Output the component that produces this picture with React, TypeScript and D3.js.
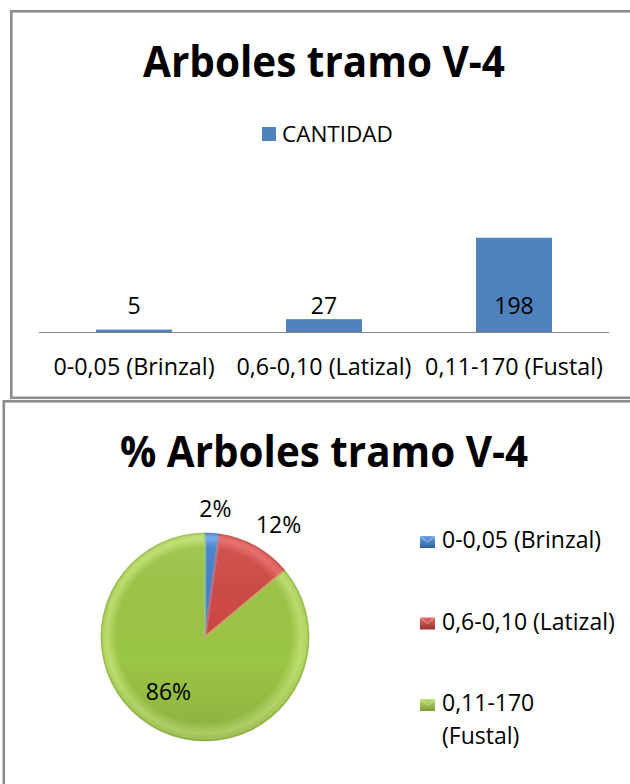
import React, { useEffect, useRef } from 'react';
import * as d3 from 'd3';

const categories = ['0-0,05 (Brinzal)', '0,6-0,10 (Latizal)', '0,11-170 (Fustal)'];
const cantidad = [5, 27, 198];
const seriesName = 'CANTIDAD';
const pieLegendLines = [['0-0,05 (Brinzal)'], ['0,6-0,10 (Latizal)'], ['0,11-170', '(Fustal)']];
const barTitle = 'Arboles tramo V-4';
const pieTitle = '% Arboles tramo V-4';

const FONT = "'Open Sans', 'Noto Sans', sans-serif";
const sliceColors = [
  { light: '#6aa3e8', base: '#3f7fcf', dark: '#2c5f9f' },
  { light: '#e86a66', base: '#cf4845', dark: '#9a302e' },
  { light: '#bfe070', base: '#9bc546', dark: '#7a9c32' },
];

const App = () => {
  const svgRef = useRef(null);

  useEffect(() => {
    const svg = d3.select(svgRef.current);
    svg.selectAll('*').remove();

    const defs = svg.append('defs');

    // frames of the two pasted charts
    svg.append('rect').attr('x', 11.3).attr('y', 11.3).attr('width', 640).attr('height', 386.5)
      .attr('fill', '#fff').attr('stroke', '#8c8c8c').attr('stroke-width', 2.6);
    svg.append('rect').attr('x', 3.8).attr('y', 401.3).attr('width', 640).attr('height', 400)
      .attr('fill', '#fff').attr('stroke', '#8c8c8c').attr('stroke-width', 2.6);

    // ---- bar chart ----
    svg.append('text')
      .attr('x', 324).attr('y', 77)
      .attr('text-anchor', 'middle')
      .attr('font-family', FONT).attr('font-weight', 'bold').attr('font-size', 43)
      .attr('textLength', 362).attr('lengthAdjust', 'spacingAndGlyphs')
      .text(barTitle);

    svg.append('rect').attr('x', 262).attr('y', 127).attr('width', 14).attr('height', 14).attr('fill', '#4F81BD');
    svg.append('text')
      .attr('x', 282).attr('y', 141.5)
      .attr('font-family', FONT).attr('font-size', 22.5).attr('fill', '#000')
      .text(seriesName);

    const baseY = 332;
    const x = d3.scaleBand()
      .domain(categories)
      .range([39, 609])
      .paddingInner(0.6)
      .paddingOuter(0.3);
    const y = d3.scaleLinear().domain([0, 250]).range([baseY, 213]);

    svg.selectAll('.bar')
      .data(cantidad)
      .enter()
      .append('rect')
      .attr('x', (d, i) => x(categories[i]))
      .attr('y', d => y(d))
      .attr('width', x.bandwidth())
      .attr('height', d => baseY - y(d))
      .attr('fill', '#4F81BD');

    svg.append('line')
      .attr('x1', 39).attr('x2', 609).attr('y1', baseY + 0.5).attr('y2', baseY + 0.5)
      .attr('stroke', '#868686').attr('stroke-width', 1.2);

    // data labels sit at one height, as in the original
    svg.selectAll('.val')
      .data(cantidad)
      .enter()
      .append('text')
      .attr('x', (d, i) => x(categories[i]) + x.bandwidth() / 2)
      .attr('y', 314)
      .attr('text-anchor', 'middle')
      .attr('font-family', FONT).attr('font-size', 23).attr('fill', '#000')
      .text(d => d);

    svg.selectAll('.cat')
      .data(categories)
      .enter()
      .append('text')
      .attr('x', d => x(d) + x.bandwidth() / 2)
      .attr('y', 375)
      .attr('text-anchor', 'middle')
      .attr('font-family', FONT).attr('font-size', 23.3).attr('fill', '#000')
      .text(d => d);

    // ---- pie chart ----
    svg.append('text')
      .attr('x', 324).attr('y', 467)
      .attr('text-anchor', 'middle')
      .attr('font-family', FONT).attr('font-weight', 'bold').attr('font-size', 43)
      .attr('textLength', 408).attr('lengthAdjust', 'spacingAndGlyphs')
      .text(pieTitle);

    const cx = 205, cy = 637, r = 104;
    const total = d3.sum(cantidad);
    const pie = d3.pie().sort(null)(cantidad);
    const arc = d3.arc().innerRadius(0).outerRadius(r);

    sliceColors.forEach((c, i) => {
      // gradient coords are in the translated group's space, so centre is 0,0
      const g = defs.append('radialGradient')
        .attr('id', `sl${i}`)
        .attr('gradientUnits', 'userSpaceOnUse')
        .attr('cx', 0).attr('cy', 0).attr('r', r)
        .attr('fx', -8).attr('fy', -14);
      g.append('stop').attr('offset', '0%').attr('stop-color', c.base);
      g.append('stop').attr('offset', '84%').attr('stop-color', c.base);
      g.append('stop').attr('offset', '94%').attr('stop-color', c.light);
      g.append('stop').attr('offset', '100%').attr('stop-color', c.base);

      const lg = defs.append('linearGradient')
        .attr('id', `lg${i}`).attr('x1', 0).attr('y1', 0).attr('x2', 0).attr('y2', 1);
      lg.append('stop').attr('offset', '0%').attr('stop-color', c.light);
      lg.append('stop').attr('offset', '100%').attr('stop-color', c.dark);
    });

    const shade = defs.append('linearGradient')
      .attr('id', 'shade').attr('x1', 0).attr('y1', 0).attr('x2', 0).attr('y2', 1);
    shade.append('stop').attr('offset', '0%').attr('stop-color', '#fff').attr('stop-opacity', 0.08);
    shade.append('stop').attr('offset', '60%').attr('stop-color', '#000').attr('stop-opacity', 0);
    shade.append('stop').attr('offset', '100%').attr('stop-color', '#000').attr('stop-opacity', 0.1);

    const pg = svg.append('g').attr('transform', `translate(${cx},${cy})`);
    pg.selectAll('.slice')
      .data(pie)
      .enter()
      .append('path')
      .attr('d', arc)
      .attr('fill', (d, i) => `url(#sl${i})`)
      .attr('stroke', (d, i) => sliceColors[i].dark)
      .attr('stroke-opacity', 0.5)
      .attr('stroke-width', 1);

    // soft inner bevel along each slice edge
    const inner = d3.arc().innerRadius(0).outerRadius(r - 3);
    pg.selectAll('.bevel')
      .data(pie)
      .enter()
      .append('path')
      .attr('d', inner)
      .attr('fill', 'none')
      .attr('stroke', (d, i) => sliceColors[i].light)
      .attr('stroke-opacity', 0.45)
      .attr('stroke-width', 2.5)
      .attr('stroke-linejoin', 'round');

    pg.append('circle').attr('r', r).attr('fill', 'url(#shade)');

    // labels: small slices outside, big one inside
    pg.selectAll('.pl')
      .data(pie)
      .enter()
      .append('text')
      .attr('x', d => {
        const a = (d.startAngle + d.endAngle) / 2;
        const share = d.value / total;
        if (share > 0.5) return Math.sin(a) * r * 0.65 - 8;
        return Math.sin(a) * 128 + Math.sin(a) * 24;
      })
      .attr('y', d => {
        const a = (d.startAngle + d.endAngle) / 2;
        const share = d.value / total;
        if (share > 0.5) return -Math.cos(a) * r * 0.65 + 2;
        return -Math.cos(a) * 128 + 8;
      })
      .attr('text-anchor', 'middle')
      .attr('font-family', FONT).attr('font-size', 23).attr('fill', '#000')
      .text(d => `${Math.round((d.value / total) * 100)}%`);

    // legend
    const ly = d3.scaleLinear().domain([0, 1]).range([548, 629.5]);
    const leg = svg.selectAll('.leg')
      .data(pieLegendLines)
      .enter()
      .append('g')
      .attr('transform', (d, i) => `translate(420,${ly(i)})`);
    leg.append('rect')
      .attr('x', 0).attr('y', -12).attr('width', 15).attr('height', 12)
      .attr('fill', (d, i) => `url(#lg${i})`);
    leg.append('path')
      .attr('d', 'M0,-12 L7.5,-6 L15,-12')
      .attr('fill', 'none').attr('stroke', 'rgba(255,255,255,0.45)').attr('stroke-width', 1);
    leg.each(function (lines) {
      const t = d3.select(this).append('text')
        .attr('font-family', FONT).attr('font-size', 23).attr('fill', '#000');
      lines.forEach((ln, j) => {
        t.append('tspan').attr('x', 22).attr('y', j * 33).text(ln);
      });
    });
  }, []);

  return (
    <div style={{ position: 'absolute', left: 0, top: 0, background: '#fff' }}>
      <svg ref={svgRef} width={630} height={784} style={{ display: 'block' }}></svg>
    </div>
  );
};

export default App;
